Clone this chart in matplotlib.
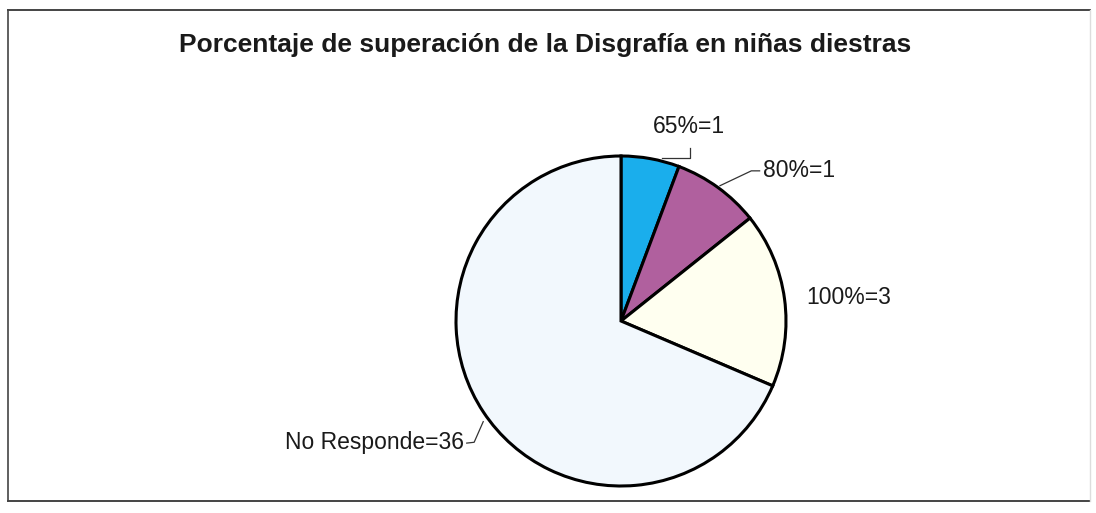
import matplotlib
matplotlib.use("Agg")
import matplotlib.pyplot as plt
from matplotlib.lines import Line2D
import numpy as np

plt.rcParams['font.family'] = ['Liberation Sans', 'DejaVu Sans']

title = "Porcentaje de superación de la Disgrafía en niñas diestras"
labels = ["65%=1", "80%=1", "100%=3", "No Responde=36"]
# slice sizes as drawn in the picture (angular shares)
slice_sizes = [2, 3, 6, 24]
colors = ["#1AAEEC", "#B0609E", "#FFFFF0", "#F2F8FD"]

W, H = 1096, 513
fig = plt.figure(figsize=(W/100, H/100), dpi=100)
fig.patch.set_facecolor("white")

def fx(px):
    return px / W

def fy(py):
    return 1 - py / H

# outer frame (left, top, bottom dark; right faint)
L, T, R, B = 8, 10, 1090, 501
fig.add_artist(Line2D([fx(L), fx(R)], [fy(T), fy(T)], transform=fig.transFigure, color="#444444", lw=1.4))
fig.add_artist(Line2D([fx(L), fx(R)], [fy(B), fy(B)], transform=fig.transFigure, color="#444444", lw=1.4))
fig.add_artist(Line2D([fx(L), fx(L)], [fy(T), fy(B)], transform=fig.transFigure, color="#444444", lw=1.2))
fig.add_artist(Line2D([fx(R), fx(R)], [fy(T), fy(B)], transform=fig.transFigure, color="#dddddd", lw=1.0))

fig.text(fx(545), fy(45), title, ha="center", va="center",
         fontsize=19, fontweight="bold", color="#1a1a1a")

cx, cy, r = 621, 321, 165
ax = fig.add_axes([fx(cx - r), fy(cy + r), 2*r/W, 2*r/H])
wedges, _ = ax.pie(slice_sizes, colors=colors, startangle=90, counterclock=False,
                   wedgeprops=dict(edgecolor="black", linewidth=2.2))
ax.set_xlim(-1.0, 1.0)
ax.set_ylim(-1.0, 1.0)
ax.set_aspect("equal")

fs = 16.5
lc = "#333333"
tc = "#1a1a1a"
# 65%=1
ax.plot([0.25, 0.42, 0.42], [0.985, 0.985, 1.05], color=lc, lw=0.9, clip_on=False)
ax.text(0.41, 1.18, labels[0], ha="center", va="center", fontsize=fs, color=tc)
# 80%=1
ax.plot([0.60, 0.79, 0.84], [0.82, 0.91, 0.91], color=lc, lw=0.9, clip_on=False)
ax.text(0.86, 0.915, labels[1], ha="left", va="center", fontsize=fs, color=tc)
# 100%=3
ax.text(1.12, 0.145, labels[2], ha="left", va="center", fontsize=fs, color=tc)
# No Responde=36
ax.plot([-0.935, -0.89, -0.835], [-0.74, -0.735, -0.61], color=lc, lw=0.9, clip_on=False)
ax.text(-0.95, -0.735, labels[3], ha="right", va="center", fontsize=fs, color=tc)

fig.savefig("out.png", dpi=100, facecolor="white")
